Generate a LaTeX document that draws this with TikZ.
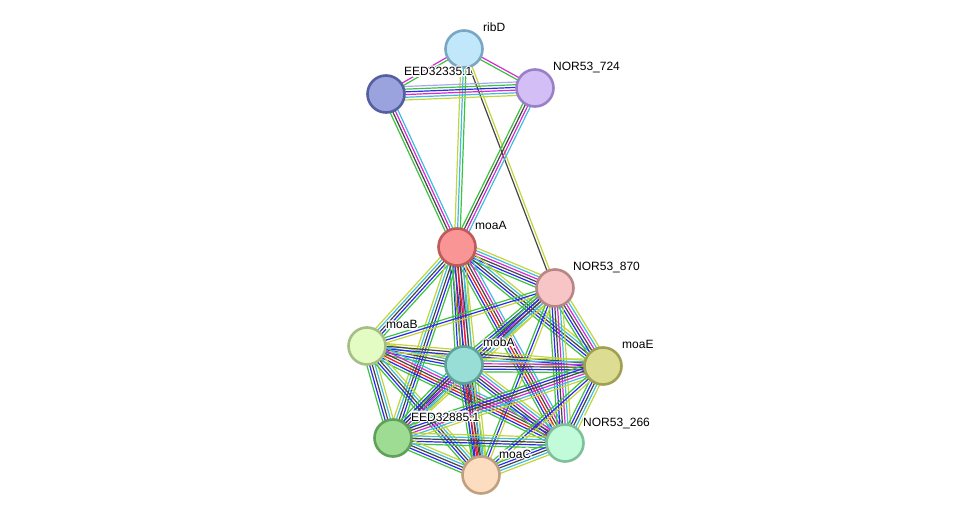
\documentclass[tikz,border=0pt]{standalone}
\usepackage{fontspec}
\setmainfont{Liberation Sans}
\usepackage{contour}
\contourlength{1.1pt}
\usetikzlibrary{calc,backgrounds}
\definecolor{eg}{HTML}{3CC23C}
\definecolor{eb}{HTML}{2A2AF0}
\definecolor{ek}{HTML}{454545}
\definecolor{em}{HTML}{D42AD4}
\definecolor{ec}{HTML}{40BCDC}
\definecolor{ey}{HTML}{C2D53A}
\definecolor{er}{HTML}{F01818}
\definecolor{el}{HTML}{A8A8F2}
\newcommand\edgebundle[3]{%
  \foreach \bcol [count=\ii] in {#3}{\xdef\bundlen{\ii}}%
  \foreach \bcol [count=\ii] in {#3}{%
    \pgfmathsetmacro\bundleoff{(\ii-(\bundlen+1)/2)*2.7}%
    \draw[edgeline,draw=\bcol] ($(#1.center)!\bundleoff pt!90:(#2.center)$) -- ($(#2.center)!\bundleoff pt!-90:(#1.center)$);
  }%
}
\tikzset{
  prot/.style={circle,minimum size=37pt,inner sep=0pt,line width=2.6pt},
  edgeline/.style={line width=1.2pt},
  lab/.style={anchor=base west,inner sep=0pt,font=\fontsize{12}{14}\selectfont}
}
\begin{document}
\begin{tikzpicture}[x=1pt,y=-1pt]
\useasboundingbox (0,0) rectangle (975,521);
\node[prot,fill={rgb,255:red,192;green,232;blue,250},draw={rgb,255:red,122;green,166;blue,196}] (ribD) at (464,49) {};
\node[prot,fill={rgb,255:red,154;green,163;blue,222},draw={rgb,255:red,85;green,95;blue,160}] (EEDa) at (386,94) {};
\node[prot,fill={rgb,255:red,211;green,191;blue,245},draw={rgb,255:red,154;green,128;blue,198}] (N724) at (535,88) {};
\node[prot,fill={rgb,255:red,249;green,149;blue,149},draw={rgb,255:red,192;green,90;blue,90}] (moaA) at (457,247) {};
\node[prot,fill={rgb,255:red,247;green,197;blue,197},draw={rgb,255:red,184;green,134;blue,134}] (N870) at (555,288) {};
\node[prot,fill={rgb,255:red,226;green,252;blue,196},draw={rgb,255:red,165;green,190;blue,133}] (moaB) at (367,346) {};
\node[prot,fill={rgb,255:red,152;green,221;blue,214},draw={rgb,255:red,94;green,162;blue,154}] (mobA) at (464,365) {};
\node[prot,fill={rgb,255:red,220;green,220;blue,147},draw={rgb,255:red,160;green,160;blue,82}] (moaE) at (603,366) {};
\node[prot,fill={rgb,255:red,158;green,219;blue,147},draw={rgb,255:red,96;green,160;blue,88}] (EEDb) at (393,438) {};
\node[prot,fill={rgb,255:red,193;green,251;blue,218},draw={rgb,255:red,127;green,192;blue,154}] (N266) at (565,443) {};
\node[prot,fill={rgb,255:red,253;green,221;blue,192},draw={rgb,255:red,192;green,160;blue,128}] (moaC) at (481,475) {};
\begin{pgfonlayer}{background}
\edgebundle{ribD}{EEDa}{em,eg}
\edgebundle{ribD}{N724}{eg,em}
\edgebundle{ribD}{moaA}{ey,ec,eg}
\edgebundle{ribD}{N870}{ek,ey}
\edgebundle{EEDa}{N724}{ey,ec,em,eb,eg,el}
\edgebundle{EEDa}{moaA}{eg,ek,em,ec}
\edgebundle{N724}{moaA}{eg,ek,em,ec}
\edgebundle{moaA}{N870}{eg,eb,ek,em,ec,ey}
\edgebundle{moaA}{moaB}{ey,ec,ek,eb,eg}
\edgebundle{moaA}{mobA}{eg,eb,er,ek,em,ec,ey}
\edgebundle{moaA}{moaE}{eg,eb,ek,ec,ey}
\edgebundle{moaA}{EEDb}{ey,ec,ek,eb,eg}
\edgebundle{moaA}{N266}{eg,eb,er,ek,em,ec}
\edgebundle{moaA}{moaC}{eg,eb,er,ek,ec,ey}
\edgebundle{N870}{moaB}{eg,eb,ey}
\edgebundle{N870}{mobA}{eg,eb,ek,em,ec,ey}
\edgebundle{N870}{moaE}{eg,eb,ek,em,ec,ey}
\edgebundle{N870}{EEDb}{eg,eb,ek,ec,ey}
\edgebundle{N870}{N266}{eg,eb,ek,em,ec,ey}
\edgebundle{N870}{moaC}{eg,eb,ey}
\edgebundle{moaB}{mobA}{eg,eb,ek,ec,ey}
\edgebundle{moaB}{moaE}{ey,eb,ek,ey}
\edgebundle{moaB}{EEDb}{eg,eb,ek,ec,ey}
\edgebundle{moaB}{N266}{eg,eb,er,ek,em,ec}
\edgebundle{moaB}{moaC}{eg,eb,ek,ec,ey}
\edgebundle{mobA}{moaE}{eg,eb,ek,em,ec,ey}
\edgebundle{mobA}{EEDb}{eg,eb,ek,em,ec,ey}
\edgebundle{mobA}{N266}{eg,eb,ek,em,ec,ey}
\edgebundle{mobA}{moaC}{eg,eb,er,ek,ec,ey}
\edgebundle{moaE}{EEDb}{eg,eb,ek,em,ec,ey}
\edgebundle{moaE}{N266}{eg,eb,ek,ec,ey}
\edgebundle{moaE}{moaC}{eg,eb,ey}
\edgebundle{EEDb}{N266}{eg,eb,ek,ec,ey}
\edgebundle{EEDb}{moaC}{eg,eb,ek,ec,ey}
\edgebundle{N266}{moaC}{eg,eb,ek,ec,ey}
\end{pgfonlayer}
\node[lab] (lribD) at ($(ribD.center)+(19,-17)$) {\contour{white}{ribD}};
\node[lab] (lEEDa) at ($(EEDa.center)+(18,-18)$) {\contour{white}{EED32335.1}};
\node[lab] (lN724) at ($(N724.center)+(18,-17)$) {\contour{white}{NOR53\_724}};
\node[lab] (lmoaA) at ($(moaA.center)+(18,-17)$) {\contour{white}{moaA}};
\node[lab] (lN870) at ($(N870.center)+(18,-17)$) {\contour{white}{NOR53\_870}};
\node[lab] (lmoaB) at ($(moaB.center)+(19,-17)$) {\contour{white}{moaB}};
\node[lab] (lmobA) at ($(mobA.center)+(19,-18)$) {\contour{white}{mobA}};
\node[lab] (lmoaE) at ($(moaE.center)+(19,-17)$) {\contour{white}{moaE}};
\node[lab] (lEEDb) at ($(EEDb.center)+(18,-17)$) {\contour{white}{EED32885.1}};
\node[lab] (lN266) at ($(N266.center)+(18,-17)$) {\contour{white}{NOR53\_266}};
\node[lab] (lmoaC) at ($(moaC.center)+(18,-17)$) {\contour{white}{moaC}};
\end{tikzpicture}
\end{document}
